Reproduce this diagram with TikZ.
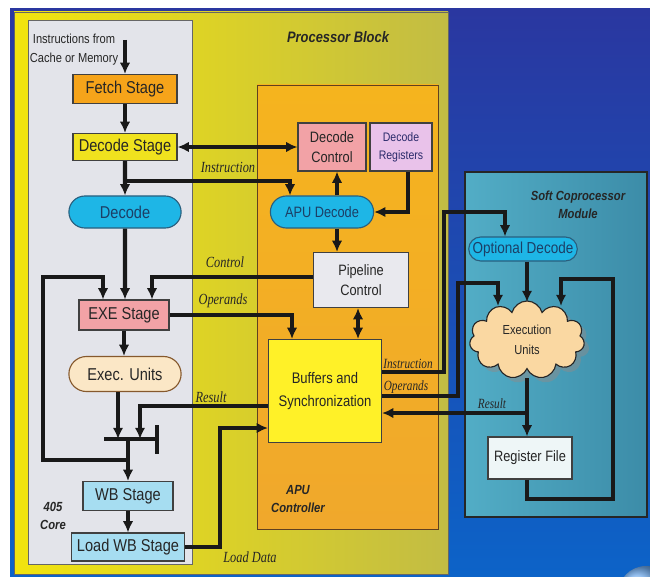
\documentclass[tikz,border=0pt]{standalone}
\usepackage{fontspec}
\setmainfont{Liberation Sans}[FakeStretch=0.85]
\newfontfamily\serlbl{Liberation Serif}[FakeStretch=0.8]
\usetikzlibrary{arrows.meta, shadows, positioning, calc, shapes}

\definecolor{bgtop}{HTML}{2A37A0}
\definecolor{bgbot}{HTML}{0C63C8}
\definecolor{pbleft}{HTML}{F2E40E}
\definecolor{pbright}{HTML}{C2BC44}
\definecolor{corefill}{HTML}{E3E4EA}
\definecolor{aputop}{HTML}{F5B41E}
\definecolor{apubot}{HTML}{F0A82C}
\definecolor{fetchfill}{HTML}{F6A41A}
\definecolor{decstfill}{HTML}{F0E21E}
\definecolor{cyanfill}{HTML}{1EB6E6}
\definecolor{cyanline}{HTML}{2A5F7E}
\definecolor{cyantext}{HTML}{1C3F66}
\definecolor{pinkfill}{HTML}{F2A2A6}
\definecolor{creamfill}{HTML}{FBE7C6}
\definecolor{wbfill}{HTML}{A6DDF1}
\definecolor{regsfill}{HTML}{E9C2EA}
\definecolor{regstext}{HTML}{2A2A6A}
\definecolor{pipefill}{HTML}{E9E9EE}
\definecolor{buffill}{HTML}{FFF128}
\definecolor{coleft}{HTML}{52ADC6}
\definecolor{coright}{HTML}{3C8CA8}
\definecolor{cloudfill}{HTML}{FAD8A2}
\definecolor{rffill}{HTML}{EEF6F7}
\definecolor{globe}{HTML}{6FA8E8}

\tikzset{
  stage/.style={draw=black!75, line width=0.8pt, text=black!85, align=center, inner sep=1pt,
    font=\fontsize{12.2}{13.5}\selectfont},
  apubox/.style={stage, font=\fontsize{10.7}{14.2}\selectfont},
  pill/.style={stage, rounded rectangle, draw=cyanline, fill=cyanfill, text=cyantext},
  wire/.style={line width=3pt, black!90},
  lbl/.style={inner sep=0pt, text=black!85, font=\serlbl\itshape\fontsize{11}{12}\selectfont},
  smlbl/.style={lbl, font=\serlbl\itshape\fontsize{10}{11}\selectfont},
  ttl/.style={inner sep=0pt, text=black!85, align=center, font=\bfseries\itshape\fontsize{9.4}{13}\selectfont},
}

\begin{document}
\begin{tikzpicture}[x=0.025cm, y=-0.025cm, >={Latex[length=8pt,width=7.5pt]}]
\useasboundingbox (0,0) rectangle (650,577);
\clip (0,0) rectangle (650,577);
\fill[white] (0,0) rectangle (650,577);
\shade[top color=bgtop, bottom color=bgbot] (10,9) rectangle (650,577);
\shade[ball color=globe] (646,594) circle (28);

\shadedraw[left color=pbleft, right color=pbright, draw=black!60] (14,12) rectangle (448,574);
\filldraw[fill=corefill, draw=black!60] (28,20) rectangle (192,564);
\shadedraw[top color=aputop, bottom color=apubot, draw=black!50!brown] (257,85) rectangle (438,529);
\shadedraw[left color=coleft, right color=coright, draw=black!85, line width=1.8pt] (465,172) rectangle (647,517);

\node[ttl, font=\bfseries\itshape\fontsize{10.8}{12}\selectfont] (pbt) at (338,37) {Processor Block};
\node[ttl] (apuc) at (298,499) {APU\\Controller};
\node[ttl] (core) at (53,516) {405\\Core};
\node[ttl] (scm) at (578,205) {Soft Coprocessor\\Module};
\node[inner sep=0pt, align=center, text=black!85, font=\fontsize{9.3}{13.5}\selectfont] (src) at (74,50) {Instructions from\\Cache or Memory};

\node[stage, fill=fetchfill, minimum width=2.6cm, minimum height=0.725cm] (fetch) at (125,89) {Fetch Stage};
\node[stage, fill=decstfill, minimum width=2.6cm, minimum height=0.675cm] (decst) at (125,147) {Decode Stage};
\node[pill, minimum width=2.875cm, minimum height=0.8cm] (dec) at (125,212) {Decode};
\node[stage, fill=pinkfill, minimum width=2.25cm, minimum height=0.75cm] (exe) at (124,315) {EXE Stage};
\node[stage, rounded rectangle, fill=creamfill, draw=brown!70!black, minimum width=2.875cm, minimum height=0.875cm] (execu) at (125,374) {Exec. Units};
\node[stage, fill=wbfill, minimum width=2.25cm, minimum height=0.725cm] (wb) at (128,496) {WB Stage};
\node[stage, fill=wbfill, minimum width=2.825cm, minimum height=0.7cm] (ldwb) at (128,547) {Load WB Stage};

\node[apubox, fill=pinkfill, minimum width=1.7cm, minimum height=1.2cm] (dctl) at (332,147) {Decode\\Control};
\node[apubox, fill=regsfill, text=regstext, font=\fontsize{8.8}{12.8}\selectfont, minimum width=1.55cm, minimum height=1.2cm] (dreg) at (401,147) {Decode\\Registers};
\node[pill, font=\fontsize{10.7}{12}\selectfont, minimum width=2.65cm, minimum height=0.8cm] (apudec) at (322,212) {APU Decode};
\node[apubox, fill=pipefill, minimum width=2.375cm, minimum height=1.375cm] (pipe) at (361,280) {Pipeline\\Control};
\node[apubox, fill=buffill, font=\fontsize{10.9}{16}\selectfont, minimum width=2.825cm, minimum height=2.575cm] (buf) at (325,391) {Buffers and\\Synchronization};

\node[pill, font=\fontsize{11.3}{12}\selectfont, minimum width=2.6cm, minimum height=0.6cm] (optdec) at (523,249) {Optional Decode};
\node[stage, cloud, cloud puffs=11, cloud ignores aspect, fill=cloudfill, draw=black!85,
  drop shadow={shadow xshift=1.2mm, shadow yshift=-1.2mm, fill=black!45, opacity=0.5},
  font=\fontsize{9.3}{14}\selectfont, minimum width=2.875cm, minimum height=1.95cm] (cloud) at (527,340) {Execution\\Units};
\node[apubox, fill=rffill, minimum width=2.1cm, minimum height=1.05cm] (regf) at (530,458) {Register File};

\coordinate (srcend) at (125,40);
\coordinate (ibr) at (125,181);
\coordinate (barL) at (104,439);
\coordinate (barR) at (157,439);
\coordinate (fb) at (128,460);
\coordinate (cl1) at (498,306);
\coordinate (cl2) at (527,302);
\coordinate (cl3) at (527,378);
\coordinate (cl4) at (561,306);
\coordinate (rb) at (527,413);

\draw[wire,->] (srcend) -- (fetch.north -| srcend);
\draw[wire,->] (fetch) -- (decst);
\draw[wire,->] (decst) -- (dec);
\draw[wire,<->] (decst.east) -- (decst.east -| dctl.west);
\draw[wire,->] (ibr) -| (apudec.north -| 290,0);
\draw[wire,->] (dec) -- (dec |- exe.north);
\draw[wire,->] (exe.south) -- (exe.south |- execu.north);
\draw[wire,->] (execu.south -| 118,0) -- (barL -| 118,0);
\draw[wire] (barL) -- (barR);
\draw[wire] (barR |- 0,425) -- (barR |- 0,454);
\draw[wire,->] (barL -| wb) -- (wb);
\draw[wire,->] (wb) -- (ldwb);
\draw[wire,->] (fb) -- (43,460) |- (103,277) -- (exe.north -| 103,0);
\draw[wire,->] (pipe.west |- 0,277) -| (exe.north -| 152,0);
\draw[wire,->] (exe.east) -| (buf.north -| 292,0);
\draw[wire,->] (buf.west |- 0,406) -| (barL -| 140,0);
\draw[wire,->] (ldwb.east) -| (220,428) -- (buf.west |- 0,428);

\draw[wire,->] (apudec.north -| 337,0) -- (dctl.south -| 337,0);
\draw[wire,->] (dreg.south -| 408,0) |- (apudec.east);
\draw[wire,->] (apudec.south -| 337,0) -- (pipe.north -| 337,0);
\draw[wire,<->] (pipe.south -| 358,0) -- (buf.north -| 358,0);

\draw[wire,->] (buf.east |- 0,372) -| (444,212) -| (optdec.north -| 505,0);
\draw[wire,->] (buf.east |- 0,396) -| (458,283) -| (cl1);
\draw[wire,->] (optdec.south -| cl2) -- (cl2);
\draw[wire,->] (cl3) -- (regf.north -| cl3);
\draw[wire,->] (rb) -- (buf.east |- rb);
\draw[wire,->] (regf.south -| rb) |- (613,499) |- (561,279) -- (cl4);

\node[lbl] (linst) at (228,167) {Instruction};
\node[lbl] (lctl) at (225,262) {Control};
\node[lbl] (lops) at (223,301) {Operands};
\node[lbl] (lres) at (211,397) {Result};
\node[lbl] (lload) at (250,557) {Load Data};
\node[smlbl] (linst2) at (408,364) {Instruction};
\node[smlbl] (lops2) at (406,387) {Operands};
\node[smlbl] (lres2) at (492,404) {Result};
\end{tikzpicture}
\end{document}
